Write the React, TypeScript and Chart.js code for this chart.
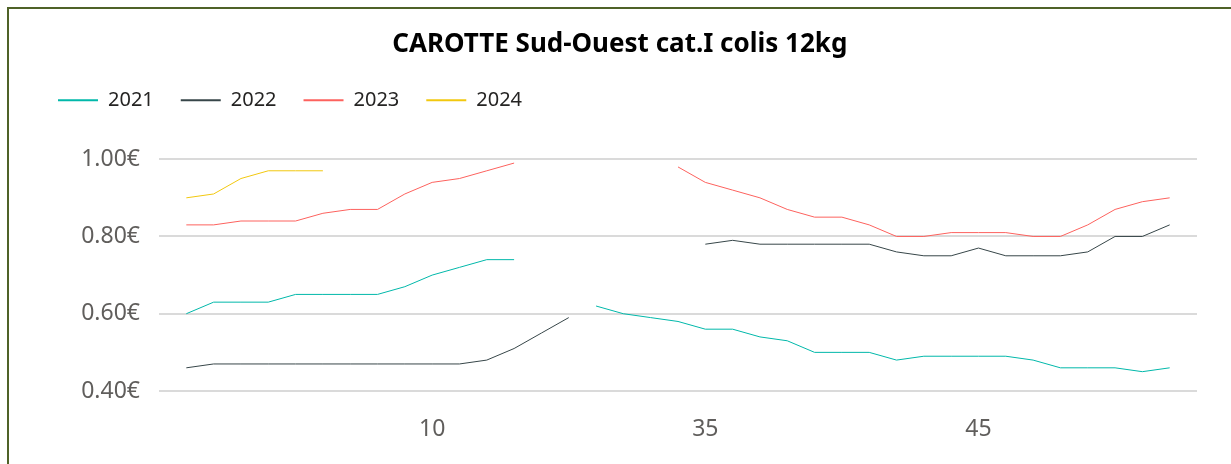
import { useEffect, useRef } from "react";
import { Chart, registerables } from "chart.js";

Chart.register(...registerables);

// Week numbers present on the category axis (weeks 16–30 have no quotation)
const weeks = [1, 2, 3, 4, 5, 6, 7, 8, 9, 10, 11, 12, 13, 14, 15, 31, 32, 33, 34, 35, 36, 37, 38, 39, 40, 41, 42, 43, 44, 45, 46, 47, 48, 49, 50, 51, 52];
const xTickWeeks = [10, 35, 45];

const seriesNames = ["2021", "2022", "2023", "2024"];

const s2021 = [0.60, 0.63, 0.63, 0.63, 0.65, 0.65, 0.65, 0.65, 0.67, 0.70, 0.72, 0.74, 0.74, null, null,
  0.62, 0.60, 0.59, 0.58, 0.56, 0.56, 0.54, 0.53, 0.50, 0.50, 0.50, 0.48, 0.49, 0.49, 0.49, 0.49, 0.48, 0.46, 0.46, 0.46, 0.45, 0.46];
const s2022 = [0.46, 0.47, 0.47, 0.47, 0.47, 0.47, 0.47, 0.47, 0.47, 0.47, 0.47, 0.48, 0.51, 0.55, 0.59,
  null, null, null, null, 0.78, 0.79, 0.78, 0.78, 0.78, 0.78, 0.78, 0.76, 0.75, 0.75, 0.77, 0.75, 0.75, 0.75, 0.76, 0.80, 0.80, 0.83];
const s2023 = [0.83, 0.83, 0.84, 0.84, 0.84, 0.86, 0.87, 0.87, 0.91, 0.94, 0.95, 0.97, 0.99, null, null,
  null, null, null, 0.98, 0.94, 0.92, 0.90, 0.87, 0.85, 0.85, 0.83, 0.80, 0.80, 0.81, 0.81, 0.81, 0.80, 0.80, 0.83, 0.87, 0.89, 0.90];
const s2024 = [0.90, 0.91, 0.95, 0.97, 0.97, 0.97, null, null, null, null, null, null, null, null, null,
  null, null, null, null, null, null, null, null, null, null, null, null, null, null, null, null, null, null, null, null, null, null];

const yMin = 0.4;
const yMax = 1.0;
const yStep = 0.2;

const seriesColors = ["#01B8AA", "#374649", "#FD625E", "#F2C80F"];

const FONT = "'Noto Sans', sans-serif";

const legendGap = {
  id: "legendGap",
  beforeInit(chart: any) {
    const legend = chart.legend;
    if (!legend) return;
    const orig = legend.fit;
    legend.fit = function () {
      orig.call(this);
      this.height += 39;
    };
  },
};

const titleShift = {
  id: "titleShift",
  afterLayout(chart: any) {
    const t = chart.titleBlock;
    if (t) {
      t.left += 5.8;
      t.right += 5.8;
    }
  },
};

export default function App() {
  const ref = useRef<HTMLCanvasElement>(null);

  useEffect(() => {
    const all = [s2021, s2022, s2023, s2024];
    const chart = new Chart(ref.current!, {
      type: "line",
      data: {
        labels: weeks.map((_, i) => i),
        datasets: seriesNames.map((name, i) => ({
          label: name,
          data: all[i],
          borderColor: seriesColors[i],
          backgroundColor: seriesColors[i],
          borderWidth: 1,
          pointRadius: 0,
          pointHoverRadius: 0,
          tension: 0,
          spanGaps: false,
        })),
      },
      options: {
        animation: false,
        responsive: true,
        maintainAspectRatio: false,
        layout: { padding: { left: 22, right: 34, top: 0, bottom: 0 } },
        plugins: {
          title: {
            display: true,
            text: "CAROTTE Sud-Ouest cat.I colis 12kg",
            color: "#000000",
            font: { family: FONT, size: 26, weight: "bold" },
            padding: { top: 20, bottom: 3 },
          },
          legend: {
            display: true,
            position: "top",
            align: "start",
            labels: {
              usePointStyle: true,
              pointStyle: "line",
              pointStyleWidth: 40,
              padding: 27,
              color: "#252423",
              font: { family: FONT, size: 20 },
              generateLabels: (c: any) =>
                (Chart.defaults.plugins.legend.labels.generateLabels as any)(c).map((l: any) => ({
                  ...l,
                  lineWidth: 2,
                  pointStyle: "line",
                })),
            },
          },
          tooltip: { enabled: false },
        },
        scales: {
          x: {
            type: "linear",
            min: -1,
            max: weeks.length,
            grid: { display: false, drawTicks: false },
            border: { display: false },
            afterBuildTicks: (scale: any) => {
              scale.ticks = xTickWeeks.map((w) => ({ value: weeks.indexOf(w) }));
            },
            afterFit: (scale: any) => {
              scale.height = 73;
            },
            ticks: {
              autoSkip: false,
              maxRotation: 0,
              padding: 25,
              color: "#605E5C",
              font: { family: FONT, size: 23 },
              callback: (v: any) => String(weeks[Number(v)] ?? ""),
            },
          },
          y: {
            min: yMin,
            max: yMax,
            grid: { color: "#DADADA", lineWidth: 2, drawTicks: false },
            border: { display: false },
            afterFit: (scale: any) => {
              scale.width = 128;
            },
            ticks: {
              stepSize: yStep,
              padding: 19,
              color: "#605E5C",
              font: { family: FONT, size: 23 },
              callback: (v: any) => Number(v).toFixed(2) + "€",
            },
          },
        },
      } as any,
      plugins: [legendGap, titleShift],
    });
    return () => chart.destroy();
  }, []);

  return (
    <div
      style={{
        position: "fixed",
        left: 7,
        top: 7,
        width: 1280,
        height: 520,
        border: "2px solid #4F6228",
        background: "#ffffff",
      }}
    >
      <div style={{ position: "absolute", left: 0, top: 0, width: 1222, height: 455 }}>
        <canvas ref={ref} />
      </div>
    </div>
  );
}
